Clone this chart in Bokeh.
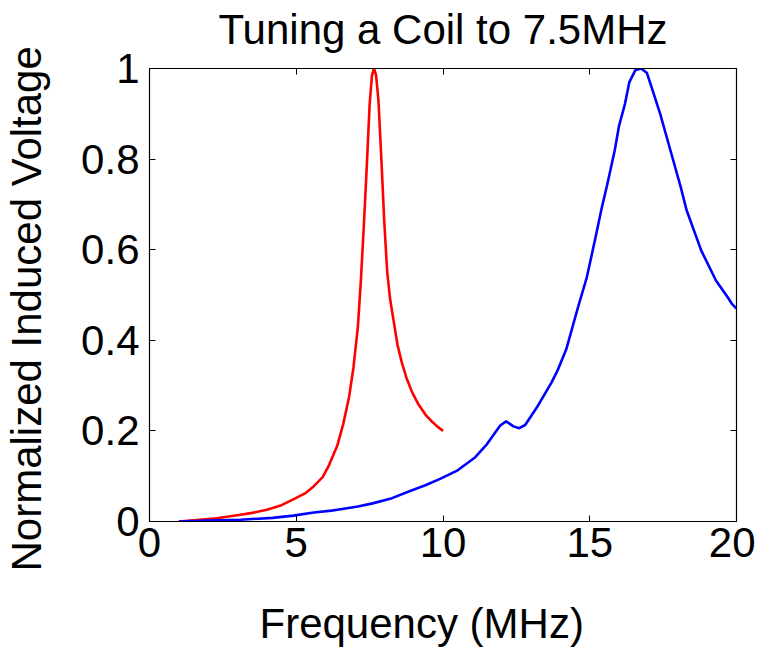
from bokeh.plotting import figure
from bokeh.models import Range1d, LinearAxis, FixedTicker, Title
from bokeh.embed import file_html
from bokeh.resources import INLINE

# Red curve: coil tuned to 7.5 MHz
red_freq = [1.0, 1.7, 2.3, 3.1, 3.5, 4.0, 4.5, 4.9, 5.3, 5.6, 5.9, 6.1, 6.4, 6.6, 6.8, 6.95,
            7.1, 7.2, 7.3, 7.4, 7.5, 7.58, 7.65, 7.72, 7.8, 7.9, 8.0, 8.1, 8.2, 8.3,
            8.45, 8.6, 8.75, 8.95, 9.15, 9.4, 9.6, 9.8, 10.0]
red_volt = [0.0, 0.004, 0.007, 0.015, 0.019, 0.026, 0.036, 0.049, 0.062, 0.078, 0.098, 0.122,
            0.168, 0.215, 0.275, 0.34, 0.43, 0.53, 0.65, 0.78, 0.92, 0.985, 1.0, 0.985,
            0.93, 0.80, 0.66, 0.55, 0.49, 0.45, 0.39, 0.35, 0.318, 0.285, 0.26, 0.236,
            0.222, 0.21, 0.2]

# Blue curve: untuned coil
blue_freq = [1.0, 2.0, 3.1, 4.2, 4.9, 5.6, 6.2, 6.4, 7.1, 7.6, 8.2, 8.9, 9.4, 9.9, 10.5,
             11.1, 11.5, 11.95, 12.15, 12.4, 12.6, 12.8, 13.2, 13.7, 13.9, 14.2, 14.6,
             14.9, 15.2, 15.4, 15.6, 15.85, 16.0, 16.2, 16.35, 16.55, 16.75, 16.95, 17.1,
             17.4, 17.75, 18.1, 18.3, 18.8, 19.3, 19.7, 19.85, 20.0]
blue_volt = [0.0, 0.002, 0.004, 0.008, 0.013, 0.02, 0.024, 0.026, 0.033, 0.04, 0.05, 0.068,
             0.08, 0.094, 0.113, 0.142, 0.171, 0.212, 0.221, 0.21, 0.206, 0.213, 0.252,
             0.307, 0.333, 0.38, 0.473, 0.539, 0.628, 0.69, 0.745, 0.819, 0.874, 0.922,
             0.97, 0.996, 1.0, 0.99, 0.96, 0.9, 0.819, 0.738, 0.687, 0.598, 0.532, 0.495,
             0.48, 0.47]

x_ticks = [0, 5, 10, 15, 20]
y_ticks = [0, 0.2, 0.4, 0.6, 0.8, 1]
y_tick_labels = ["0", "0.2", "0.4", "0.6", "0.8", "1"]

title_text = "Tuning a Coil to 7.5MHz"
x_label_text = "Frequency (MHz)"
y_label_text = "Normalized Induced Voltage"

FONT = "Liberation Sans"
FS = "42px"
NBSP = "\u00a0"

p = figure(width=755, height=648, output_backend="svg", toolbar_location=None,
           x_range=Range1d(0, 20), y_range=Range1d(0, 1),
           min_border_left=148, min_border_right=19, min_border_top=68, min_border_bottom=127)

p.line(red_freq, red_volt, color="#FF0000", line_width=2.6, line_join="round")
p.line(blue_freq, blue_volt, color="#0000FF", line_width=2.6, line_join="round")

p.grid.visible = False
p.outline_line_color = "black"
p.outline_line_width = 1.2
p.background_fill_color = "white"
p.border_fill_color = "white"

p.xaxis.ticker = FixedTicker(ticks=x_ticks)
p.yaxis.ticker = FixedTicker(ticks=y_ticks)
p.yaxis.major_label_overrides = {t: l for t, l in zip(y_ticks, y_tick_labels)}

for ax in (p.xaxis[0], p.yaxis[0]):
    ax.major_label_text_font = FONT
    ax.major_label_text_font_size = FS
    ax.major_label_text_color = "black"
    ax.major_tick_in = 6
    ax.major_tick_out = 0
    ax.minor_tick_in = 0
    ax.minor_tick_out = 0
    ax.axis_line_color = "black"
    ax.major_tick_line_color = "black"
    # blank, tiny axis label: only reserves room before the axis title
    ax.axis_label = NBSP
    ax.axis_label_text_font_size = "1px"
    ax.axis_label_text_color = "white"

p.xaxis.major_label_standoff = 6
p.xaxis.axis_label_standoff = 37
p.yaxis.major_label_standoff = 10
p.yaxis.axis_label_standoff = 24

# top edge of the box: inward ticks; its axis label carries the chart title
top_ax = LinearAxis(ticker=FixedTicker(ticks=x_ticks), major_label_text_color=None,
                    major_label_text_font_size="1px", major_label_standoff=0,
                    major_tick_in=6, major_tick_out=0, minor_tick_in=0, minor_tick_out=0,
                    axis_line_color="black", major_tick_line_color="black",
                    axis_label=title_text, axis_label_standoff=16,
                    axis_label_text_font=FONT, axis_label_text_font_size=FS,
                    axis_label_text_font_style="normal", axis_label_text_color="black")
p.add_layout(top_ax, "above")

# right edge of the box: inward ticks
right_ax = LinearAxis(ticker=FixedTicker(ticks=y_ticks), major_label_text_color=None,
                      major_label_text_font_size="1px", major_label_standoff=0,
                      major_tick_in=6, major_tick_out=0, minor_tick_in=0, minor_tick_out=0,
                      axis_line_color="black", major_tick_line_color="black")
p.add_layout(right_ax, "right")

title_style = dict(text_font=FONT, text_font_size=FS, text_font_style="normal",
                   text_color="black", align="left")

p.add_layout(Title(text=x_label_text, offset=110, vertical_align="top", standoff=-2,
                   **title_style), "below")
p.add_layout(Title(text=y_label_text, offset=-50, vertical_align="bottom", standoff=0,
                   **title_style), "left")

open("out.html", "w").write(file_html(p, INLINE))
